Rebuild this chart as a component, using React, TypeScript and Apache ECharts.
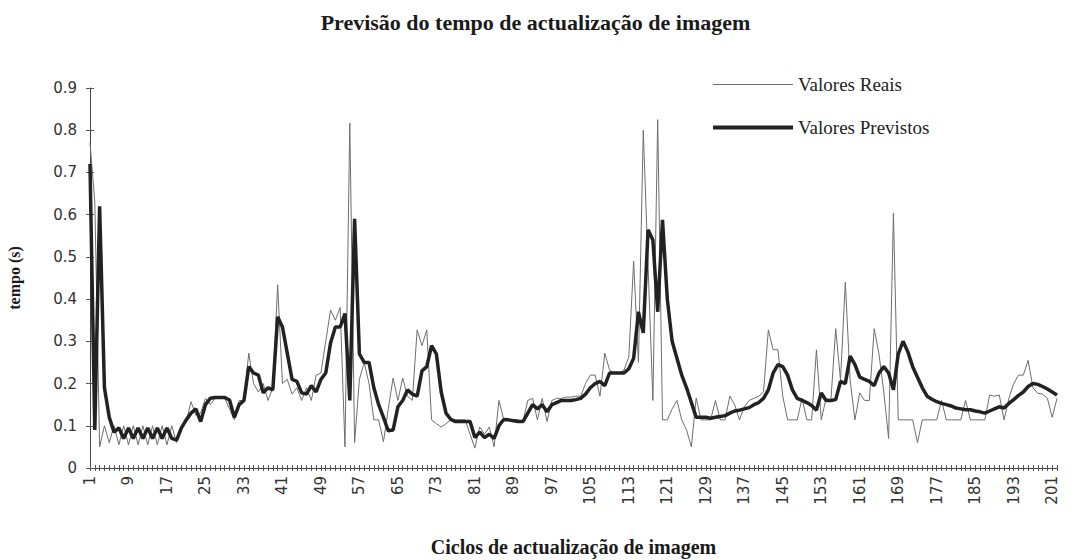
import React, { useEffect, useRef } from "react";
import * as echarts from "echarts";

const cycles: string[] = Array.from({ length: 202 }, (_, i) => String(i + 1));

const valoresReais: number[] = [
  0.77, 0.63, 0.05, 0.1, 0.06, 0.1, 0.055, 0.1, 0.055, 0.1,
  0.055, 0.1, 0.055, 0.1, 0.055, 0.1, 0.055, 0.1, 0.06, 0.1,
  0.11, 0.157, 0.125, 0.13, 0.165, 0.15, 0.165, 0.165, 0.165, 0.14,
  0.114, 0.16, 0.16, 0.272, 0.2, 0.18, 0.2, 0.16, 0.19, 0.434,
  0.2, 0.21, 0.175, 0.19, 0.16, 0.19, 0.16, 0.22, 0.225, 0.3,
  0.374, 0.35, 0.38, 0.05, 0.817, 0.06, 0.21, 0.25, 0.2, 0.114,
  0.114, 0.062, 0.14, 0.213, 0.16, 0.213, 0.17, 0.16, 0.327, 0.29,
  0.327, 0.114, 0.105, 0.097, 0.105, 0.114, 0.114, 0.114, 0.114, 0.08,
  0.047, 0.097, 0.08, 0.097, 0.05, 0.16, 0.115, 0.114, 0.114, 0.114,
  0.11, 0.16, 0.165, 0.114, 0.165, 0.11, 0.16, 0.165, 0.165, 0.168,
  0.168, 0.17, 0.17, 0.2, 0.22, 0.22, 0.17, 0.272, 0.232, 0.225,
  0.225, 0.232, 0.263, 0.49, 0.25, 0.8, 0.48, 0.16, 0.825, 0.114,
  0.114, 0.14, 0.16, 0.114, 0.09, 0.05, 0.166, 0.114, 0.114, 0.114,
  0.16, 0.114, 0.114, 0.17, 0.15, 0.114, 0.145, 0.16, 0.165, 0.17,
  0.18, 0.327, 0.28, 0.28, 0.17, 0.114, 0.114, 0.114, 0.165, 0.114,
  0.114, 0.28, 0.114, 0.165, 0.16, 0.33, 0.208, 0.44, 0.208, 0.114,
  0.178, 0.16, 0.16, 0.33, 0.27, 0.18, 0.07, 0.604, 0.114, 0.114,
  0.114, 0.114, 0.06, 0.114, 0.114, 0.114, 0.114, 0.16, 0.114, 0.114,
  0.114, 0.114, 0.16, 0.114, 0.114, 0.114, 0.114, 0.173, 0.17, 0.173,
  0.114, 0.165, 0.2, 0.22, 0.22, 0.255, 0.19, 0.177, 0.175, 0.165,
  0.12, 0.165,
];

const valoresPrevistos: number[] = [
  0.72, 0.09, 0.62, 0.19, 0.12, 0.085, 0.095, 0.07, 0.095, 0.07,
  0.095, 0.07, 0.095, 0.07, 0.095, 0.07, 0.095, 0.07, 0.066, 0.095,
  0.114, 0.13, 0.14, 0.11, 0.15, 0.165, 0.167, 0.167, 0.167, 0.161,
  0.12, 0.15, 0.16, 0.24, 0.225, 0.22, 0.178, 0.19, 0.185, 0.358,
  0.334, 0.272, 0.21, 0.205, 0.178, 0.175, 0.195, 0.18, 0.21, 0.225,
  0.296, 0.334, 0.334, 0.366, 0.16, 0.59, 0.27, 0.25, 0.25, 0.19,
  0.15, 0.12, 0.088, 0.09, 0.145, 0.16, 0.185, 0.175, 0.17, 0.23,
  0.24, 0.29, 0.27, 0.18, 0.13, 0.115, 0.11, 0.11, 0.11, 0.11,
  0.072, 0.085, 0.072, 0.08, 0.07, 0.1, 0.115, 0.114, 0.112, 0.11,
  0.11, 0.13, 0.15, 0.14, 0.15, 0.133, 0.15, 0.155, 0.16, 0.16,
  0.16, 0.162, 0.165, 0.175, 0.19, 0.2, 0.205, 0.195, 0.225, 0.225,
  0.225, 0.225, 0.235, 0.26, 0.37, 0.32, 0.564, 0.54, 0.37, 0.588,
  0.4, 0.3, 0.26, 0.22, 0.19, 0.155, 0.12, 0.12, 0.12, 0.118,
  0.12, 0.122, 0.124, 0.13, 0.135, 0.137, 0.14, 0.143, 0.15, 0.155,
  0.165, 0.185, 0.225, 0.245, 0.24, 0.22, 0.185, 0.165, 0.16, 0.155,
  0.148, 0.137, 0.178, 0.16, 0.16, 0.162, 0.205, 0.2, 0.265, 0.245,
  0.215, 0.21, 0.205, 0.195, 0.225, 0.24, 0.225, 0.185, 0.27, 0.3,
  0.275, 0.24, 0.215, 0.19, 0.17, 0.163, 0.157, 0.153, 0.15, 0.147,
  0.142, 0.14, 0.138, 0.138, 0.135, 0.133, 0.13, 0.135, 0.14, 0.145,
  0.142, 0.153, 0.162, 0.172, 0.18, 0.193, 0.2, 0.198, 0.193, 0.187,
  0.18, 0.173,
];

const serif = "'Liberation Serif', 'Times New Roman', serif";
const sans = "'DejaVu Sans', sans-serif";
const thinColor = "#6e6e6e";
const thickColor = "#222222";

export default function App() {
  const ref = useRef<HTMLDivElement>(null);
  useEffect(() => {
    if (!ref.current) return;
    const chart = echarts.init(ref.current, null, { renderer: "svg" });
    chart.setOption({
      animation: false,
      backgroundColor: "#ffffff",
      title: {
        text: "Previsão do tempo de actualização de imagem",
        left: "center",
        top: 6,
        textStyle: { fontFamily: serif, fontWeight: "bold", fontSize: 22, color: "#1a1a1a" },
      },
      legend: {
        orient: "vertical",
        left: 708,
        top: 70,
        itemWidth: 80,
        itemHeight: 16,
        itemGap: 24,
        symbolKeepAspect: true,
        textStyle: { fontFamily: serif, fontSize: 19, color: "#222" },
        data: [
          {
            name: "Valores Reais",
            icon: "path://M0,0 L80,0 L80,1.2 L0,1.2 Z",
            itemStyle: { color: thinColor },
          },
          {
            name: "Valores Previstos",
            icon: "path://M0,0 L80,0 L80,3.8 L0,3.8 Z",
            itemStyle: { color: thickColor },
          },
        ],
      },
      grid: {
        left: 90,
        right: 14,
        top: 88,
        bottom: 92,
        containLabel: false,
        outerBoundsMode: "none",
      },
      xAxis: [
        {
          type: "category",
          data: cycles,
          boundaryGap: false,
          name: "Ciclos de actualização de imagem",
          nameLocation: "middle",
          nameGap: 69,
          nameTextStyle: { fontFamily: serif, fontWeight: "bold", fontSize: 20, color: "#1a1a1a" },
          axisLine: { lineStyle: { color: "#444", width: 1 } },
          axisTick: { show: true, interval: 0, length: 3, lineStyle: { color: "#555" } },
          axisLabel: {
            show: true,
            interval: 7,
            rotate: 90,
            margin: 8,
            fontFamily: sans,
            fontSize: 15,
            color: "#333",
          },
          splitLine: { show: false },
        },
        {
          type: "category",
          data: cycles,
          boundaryGap: false,
          position: "bottom",
          axisLine: { show: false },
          axisTick: { show: true, inside: true, interval: 0, length: 3, lineStyle: { color: "#555" } },
          axisLabel: { show: false },
          splitLine: { show: false },
        },
      ],
      yAxis: [
        {
          type: "value",
          min: 0,
          max: 0.9,
          interval: 0.1,
          name: "tempo (s)",
          nameLocation: "middle",
          nameGap: 68,
          nameRotate: 90,
          nameTextStyle: { fontFamily: serif, fontWeight: "bold", fontSize: 16, color: "#1a1a1a" },
          axisLine: { show: true, lineStyle: { color: "#444", width: 1 } },
          axisTick: { show: true, length: 4, lineStyle: { color: "#555" } },
          axisLabel: { margin: 13, fontFamily: sans, fontSize: 15, color: "#333" },
          splitLine: { show: false },
        },
        {
          type: "value",
          min: 0,
          max: 0.9,
          interval: 0.1,
          position: "left",
          axisLine: { show: false },
          axisTick: { show: true, inside: true, length: 4, lineStyle: { color: "#555" } },
          axisLabel: { show: false },
          splitLine: { show: false },
        },
      ],
      series: [
        {
          name: "Valores Reais",
          type: "line",
          data: valoresReais,
          symbol: "none",
          lineStyle: { width: 1, color: thinColor },
          itemStyle: { color: thinColor },
          z: 2,
        },
        {
          name: "Valores Previstos",
          type: "line",
          data: valoresPrevistos,
          symbol: "none",
          lineStyle: { width: 3.5, color: thickColor },
          itemStyle: { color: thickColor },
          z: 3,
        },
      ],
    });
    return () => chart.dispose();
  }, []);
  return (
    <div
      ref={ref}
      style={{ position: "fixed", left: 0, top: 0, width: 1071, height: 560, background: "#fff" }}
    />
  );
}
